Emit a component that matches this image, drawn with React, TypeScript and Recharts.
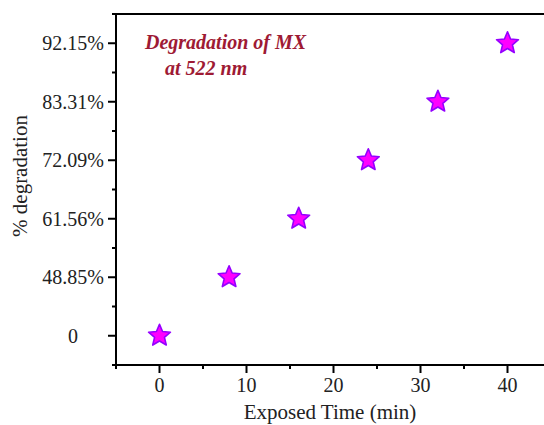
import React from 'react';
import { ScatterChart, Scatter, XAxis, YAxis, ReferenceLine } from 'recharts';

const times = [0, 8, 16, 24, 32, 40];
const degradationLabels = ['0', '48.85%', '61.56%', '72.09%', '83.31%', '92.15%'];
const levels = [0, 1, 2, 3, 4, 5];
const xTicks = [-5, 0, 5, 10, 15, 20, 25, 30, 35, 40, 45];
const yTicks = [-0.5, 0, 0.5, 1, 1.5, 2, 2.5, 3, 3.5, 4, 4.5, 5, 5.5];

const data = times.map((t, i) => ({ time: t, level: levels[i], label: degradationLabels[i] }));

const FONT = "'Liberation Serif', 'Times New Roman', serif";
const TEXT = '#222';

const XTick = (props: any) => {
  const { x, y, payload } = props;
  const v = payload.value;
  const major = v % 10 === 0;
  return (
    <g>
      <line x1={x} x2={x} y1={y} y2={y + (major ? 8 : 4)} stroke="#000" strokeWidth={2} />
      {major && (
        <text x={x} y={y + 27} textAnchor="middle" fontFamily={FONT} fontSize={20} fill={TEXT}>
          {v}
        </text>
      )}
    </g>
  );
};

const YTick = (props: any) => {
  const { x, y, payload } = props;
  const v = payload.value;
  const major = Number.isInteger(v);
  return (
    <g>
      <line x1={x - (major ? 8 : 4)} x2={x} y1={y} y2={y} stroke="#000" strokeWidth={2} />
      {major && (
        <text x={x - 43} y={y} dy="0.35em" textAnchor="middle" fontFamily={FONT} fontSize={20} fill={TEXT}>
          {degradationLabels[v]}
        </text>
      )}
    </g>
  );
};

const Star = (props: any) => {
  const { cx, cy } = props;
  const R = 11.5;
  const r = 5.2;
  const pts: string[] = [];
  for (let i = 0; i < 10; i++) {
    const rad = i % 2 === 0 ? R : r;
    const a = -Math.PI / 2 + (i * Math.PI) / 5;
    pts.push(`${cx + rad * Math.cos(a)},${cy + rad * Math.sin(a)}`);
  }
  return <polygon points={pts.join(' ')} fill="#ff00ff" stroke="#9400ff" strokeWidth={1.6} strokeLinejoin="round" />;
};

const XTitle = () => (
  <text x={330} y={419} textAnchor="middle" fontFamily={FONT} fontSize={21} fill={TEXT}>
    Exposed Time (min)
  </text>
);

const YTitle = () => (
  <text
    x={20}
    y={176}
    transform="rotate(-90 20 176)"
    textAnchor="middle"
    dy="0.35em"
    fontFamily={FONT}
    fontSize={21}
    fill={TEXT}
  >
    % degradation
  </text>
);

export default function App() {
  return (
    <div
      style={{
        position: 'fixed',
        left: 0,
        top: 0,
        width: 544,
        height: 425,
        overflow: 'hidden',
        background: '#fff',
      }}
    >
      <ScatterChart width={560} height={440} margin={{ top: 14, right: 9, bottom: 15, left: 0 }}>
        <XAxis
          type="number"
          dataKey="time"
          domain={[-5, 45]}
          ticks={xTicks}
          interval={0}
          tickSize={0}
          tickMargin={0}
          tickLine={false}
          tick={<XTick />}
          axisLine={{ stroke: '#000', strokeWidth: 2 }}
          height={60}
          label={{ content: <XTitle /> }}
        />
        <YAxis
          type="number"
          dataKey="level"
          domain={[-0.5, 5.5]}
          ticks={yTicks}
          interval={0}
          tickSize={0}
          tickMargin={0}
          tickLine={false}
          tick={<YTick />}
          axisLine={{ stroke: '#000', strokeWidth: 2 }}
          width={116}
          label={{ content: <YTitle /> }}
        />
        <ReferenceLine y={5.5} stroke="#000" strokeWidth={2} />
        <ReferenceLine x={45} stroke="#000" strokeWidth={2} />
        <Scatter data={data} shape={<Star />} isAnimationActive={false} />
      </ScatterChart>
      <div
        style={{
          position: 'absolute',
          left: 145,
          top: 29,
          fontFamily: FONT,
          fontStyle: 'italic',
          fontWeight: 'bold',
          fontSize: 20,
          lineHeight: '26px',
          color: '#9e1a34',
          whiteSpace: 'nowrap',
        }}
      >
        <div>Degradation of MX</div>
        <div style={{ paddingLeft: 20 }}>at 522 nm</div>
      </div>
    </div>
  );
}
